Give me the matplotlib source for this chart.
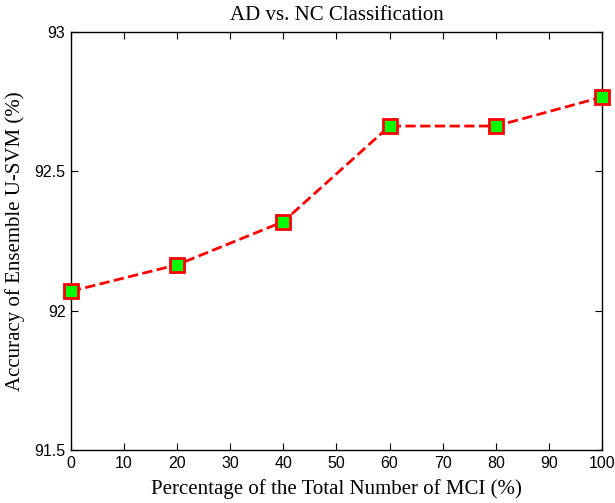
import matplotlib
matplotlib.use("Agg")
import matplotlib.pyplot as plt

x_vals = [0, 20, 40, 60, 80, 100]
accuracy = [92.07, 92.165, 92.32, 92.663, 92.663, 92.767]
x_ticks = [0, 10, 20, 30, 40, 50, 60, 70, 80, 90, 100]
y_ticks = [91.5, 92, 92.5, 93]
y_ticklabels = ["91.5", "92", "92.5", "93"]

fig = plt.figure(figsize=(6.15, 5.03), dpi=100)
ax = fig.add_axes([0.1154, 0.1054, 0.8634, 0.8306])

ax.plot(x_vals, accuracy, linestyle="--", color="#ff0000", linewidth=2,
        marker="s", markersize=9.5, markerfacecolor="#00ff00",
        markeredgecolor="#ff0000", markeredgewidth=2, clip_on=False, zorder=3)

ax.set_xlim(0, 100)
ax.set_ylim(91.5, 93)
ax.set_xticks(x_ticks)
ax.set_yticks(y_ticks)
ax.set_yticklabels(y_ticklabels)
ax.tick_params(direction="in", top=True, right=True, length=5, width=0.8,
               labelsize=11.5, pad=4)
for lbl in ax.get_xticklabels() + ax.get_yticklabels():
    lbl.set_fontfamily("Liberation Sans")
for s in ax.spines.values():
    s.set_linewidth(1.0)

ax.set_xlabel("Percentage of the Total Number of MCI (%)", fontfamily="Liberation Serif",
              fontsize=15, labelpad=6)
ax.set_ylabel("Accuracy of Ensemble U-SVM (%)", fontfamily="Liberation Serif",
              fontsize=15, labelpad=7)
ax.set_title("AD vs. NC Classification", fontfamily="Liberation Serif", fontsize=15, pad=9)

fig.savefig("out.png", dpi=100)
